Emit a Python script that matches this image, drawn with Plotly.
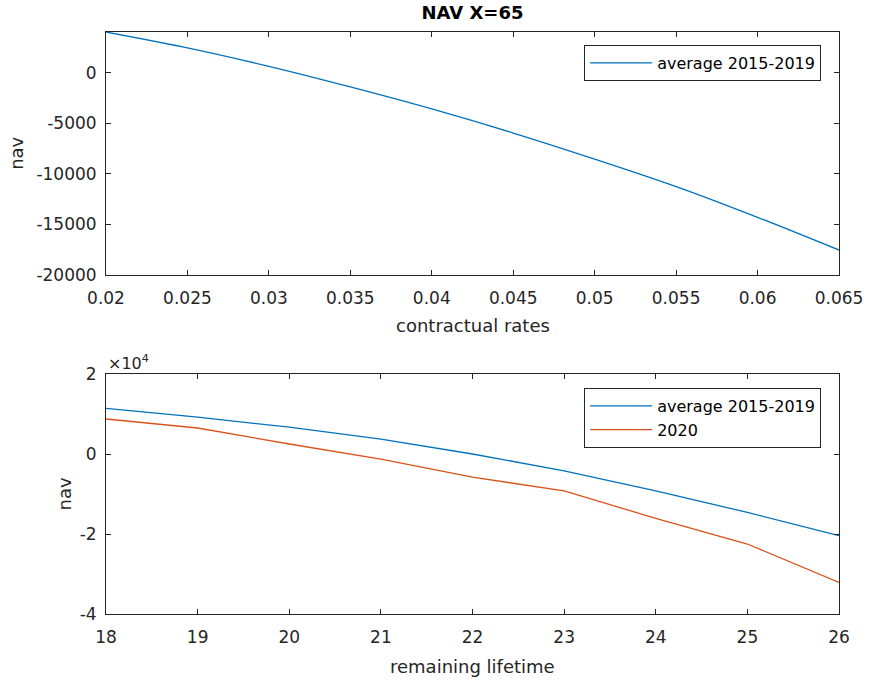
import plotly.graph_objects as go

# Top panel data
rates = [0.02, 0.025, 0.03, 0.035, 0.04, 0.045, 0.05, 0.055, 0.06, 0.065]
nav_rates_avg = [4050, 2480, 650, -1390, -3570, -5950, -8530, -11250, -14290, -17530]

# Bottom panel data
lifetime = [18, 19, 20, 21, 22, 23, 24, 25, 26]
nav_life_avg = [11400, 9200, 6700, 3700, 0, -4200, -9200, -14600, -20400]
nav_life_2020 = [8750, 6500, 2500, -1300, -5800, -9200, -16100, -22500, -32100]

top_xticks = [0.02, 0.025, 0.03, 0.035, 0.04, 0.045, 0.05, 0.055, 0.06, 0.065]
top_xticklabels = ["0.02", "0.025", "0.03", "0.035", "0.04", "0.045", "0.05", "0.055", "0.06", "0.065"]
top_yticks = [-20000, -15000, -10000, -5000, 0]
top_yticklabels = ["-20000", "-15000", "-10000", "-5000", "0"]
bot_xticks = [18, 19, 20, 21, 22, 23, 24, 25, 26]
bot_yticks = [-40000, -20000, 0, 20000]
bot_yticklabels = ["-4", "-2", "0", "2"]

BLUE = "#0072BD"
ORANGE = "#D95319"
INK = "#262626"
FONT = "DejaVu Sans, Liberation Sans, Arial, sans-serif"
FS = 17

L, R = 106, 29
PW = 875 - L - R  # plot width in px

fig = go.Figure()
fig.add_trace(go.Scatter(x=rates, y=nav_rates_avg, mode="lines", name="average 2015-2019",
                         line=dict(color=BLUE, width=1.3, shape="spline", smoothing=0.8),
                         xaxis="x", yaxis="y", legend="legend"))
fig.add_trace(go.Scatter(x=lifetime, y=nav_life_avg, mode="lines", name="average 2015-2019",
                         line=dict(color=BLUE, width=1.3), xaxis="x2", yaxis="y2", legend="legend2"))
fig.add_trace(go.Scatter(x=lifetime, y=nav_life_2020, mode="lines", name="2020",
                         line=dict(color=ORANGE, width=1.3), xaxis="x2", yaxis="y2", legend="legend2"))

axis_common = dict(showline=True, linecolor=INK, linewidth=1, mirror="ticks", ticks="inside",
                   ticklen=5, tickcolor=INK, showgrid=False, zeroline=False,
                   tickfont=dict(family=FONT, size=FS, color=INK))

top_dom = [1 - (275 - 32) / 582, 1.0]
bot_dom = [0.0, (614 - 374) / 582]

fig.update_layout(
    width=875, height=681,
    margin=dict(l=L, r=R, t=32, b=67),
    paper_bgcolor="white", plot_bgcolor="white",
    font=dict(family=FONT, size=FS, color=INK),
    title=dict(text="<b>NAV X=65</b>", x=0.5, xref="paper", xanchor="center",
               y=1 - 13 / 681, yanchor="middle", font=dict(family=FONT, size=18, color="#000000")),
    xaxis=dict(domain=[0, 1], anchor="y", range=[0.02, 0.065], tickvals=top_xticks,
               ticktext=top_xticklabels, ticklabelstandoff=8, **axis_common),
    yaxis=dict(domain=top_dom, anchor="x", range=[-20000, 4050], tickvals=top_yticks,
               ticktext=top_yticklabels, ticklabelstandoff=5, **axis_common),
    xaxis2=dict(domain=[0, 1], anchor="y2", range=[18, 26], tickvals=bot_xticks,
                ticklabelstandoff=8, **axis_common),
    yaxis2=dict(domain=bot_dom, anchor="x2", range=[-40000, 20000], tickvals=bot_yticks,
                ticktext=bot_yticklabels, ticklabelstandoff=5, **axis_common),
    legend=dict(x=(828 - L) / PW, xanchor="right", y=1 - (45 - 32) / 582, yanchor="top",
                bordercolor=INK, borderwidth=1, bgcolor="white",
                font=dict(family=FONT, size=16, color="#000000"), itemwidth=62),
    legend2=dict(x=(828 - L) / PW, xanchor="right", y=1 - (388 - 32) / 582, yanchor="top",
                 bordercolor=INK, borderwidth=1, bgcolor="white",
                 font=dict(family=FONT, size=16, color="#000000"), itemwidth=62),
    showlegend=True,
)

ann = [
    dict(text="contractual rates", x=0.5, y=1 - (325 - 32) / 582, xref="paper", yref="paper",
         showarrow=False, xanchor="center", yanchor="middle", font=dict(size=18, color=INK)),
    dict(text="remaining lifetime", x=0.5, y=1 - (666 - 32) / 582, xref="paper", yref="paper",
         showarrow=False, xanchor="center", yanchor="middle", font=dict(size=18, color=INK)),
    dict(text="nav", x=(15 - L) / PW, y=1 - (153 - 32) / 582, xref="paper", yref="paper",
         showarrow=False, xanchor="center", yanchor="middle", textangle=-90,
         font=dict(size=18, color=INK)),
    dict(text="nav", x=(64 - L) / PW, y=1 - (494 - 32) / 582, xref="paper", yref="paper",
         showarrow=False, xanchor="center", yanchor="middle", textangle=-90,
         font=dict(size=18, color=INK)),
    dict(text="\u00d710<sup>4</sup>", x=0.0, y=1 - (362 - 32) / 582, xref="paper", yref="paper",
         showarrow=False, xanchor="left", yanchor="middle", font=dict(size=16, color=INK)),
]
fig.update_layout(annotations=ann)

fig.write_html(
    "out.html",
    config={"displayModeBar": False},
    post_script=("document.body.style.margin='0';"
                 "document.body.style.overflow='hidden';"
                 "document.documentElement.style.overflow='hidden';"),
)
